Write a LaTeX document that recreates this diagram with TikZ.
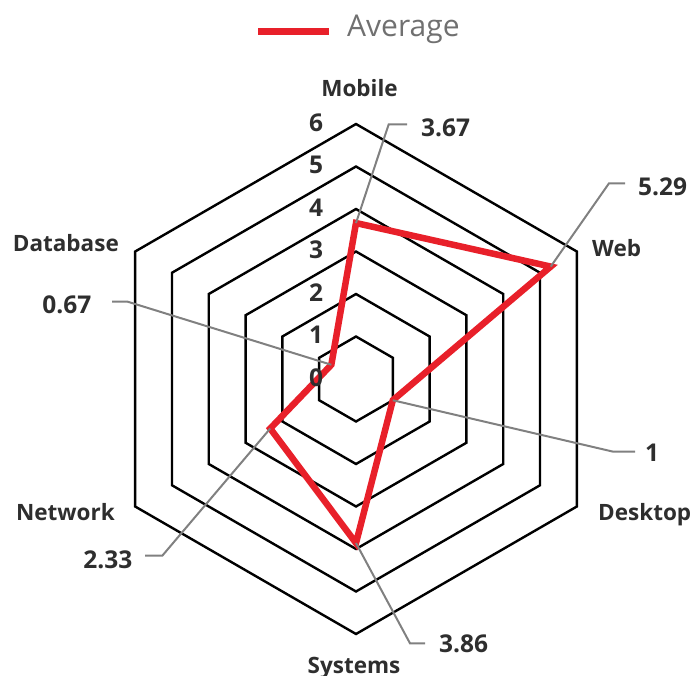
\documentclass[tikz,border=0pt]{standalone}
\usepackage{fontspec}
\setmainfont{Open Sans}
\usetikzlibrary{calc}
\definecolor{avred}{HTML}{E8202A}
\definecolor{leadgray}{HTML}{808080}
\definecolor{txt}{HTML}{2E2E2E}
\definecolor{legtxt}{HTML}{707070}
\begin{document}
\begin{tikzpicture}[x=1pt,y=-1pt,
  grid/.style={draw=black,line width=2.4pt,line join=miter},
  series/.style={draw=avred,line width=6.5pt,line join=miter},
  leader/.style={draw=leadgray,line width=2pt},
  axlabel/.style={font=\bfseries\fontsize{22.5}{22.5}\selectfont,text=txt,inner sep=0},
  vallabel/.style={font=\bfseries\fontsize{24.5}{24.5}\selectfont,text=txt,inner sep=0},
  scalelabel/.style={font=\bfseries\fontsize{24.5}{24.5}\selectfont,text=txt,inner sep=0,anchor=base},
  legendtext/.style={font=\fontsize{30}{30}\selectfont,text=legtxt,inner sep=0,anchor=base west}
]
\path[use as bounding box] (0,0) rectangle (693,675);
\coordinate (c) at (356,379);
% grid hexagons
\foreach \k in {1,...,6}{
  \pgfmathsetmacro\rr{42.5*\k}
  \draw[grid,shift={(356,379)}] (-90:\rr) -- (-30:\rr) -- (30:\rr) -- (90:\rr) -- (150:\rr) -- (210:\rr) -- cycle;
}
% data points
\coordinate (pm) at ($(c)+(-90:155.98)$);
\coordinate (pw) at ($(c)+(-30:224.83)$);
\coordinate (pd) at ($(c)+(30:42.5)$);
\coordinate (ps) at ($(c)+(90:164.05)$);
\coordinate (pn) at ($(c)+(150:99.03)$);
\coordinate (pb) at ($(c)+(210:28.48)$);
\draw[series] (pm) -- (pw) -- (pd) -- (ps) -- (pn) -- (pb) -- cycle;
% elbows and ends of leaders
\coordinate (em) at (388.7,124.3); \coordinate (hm) at (407,124.3);
\coordinate (ew) at (609,183.3);   \coordinate (hw) at (625,183.3);
\coordinate (ed) at (613.3,451.7); \coordinate (hd) at (635,451.7);
\coordinate (es) at (410,643.3);   \coordinate (hs) at (425,643.3);
\coordinate (en) at (162.3,555.7); \coordinate (hn) at (145,555.7);
\coordinate (eb) at (127.7,301.7); \coordinate (hb) at (112,301.7);
\draw[leader] (pm) -- (em) -- (hm);
\draw[leader] (pw) -- (ew) -- (hw);
\draw[leader] (pd) -- (ed) -- (hd);
\draw[leader] (ps) -- (es) -- (hs);
\draw[leader] (pn) -- (en) -- (hn);
\draw[leader] (pb) -- (eb) -- (hb);
% scale labels
\foreach \k in {0,...,6}{
  \node[scalelabel] (s\k) at (316,{386-42.5*\k}) {\k};
}
% axis labels
\node[axlabel,anchor=base] (lm) at (359.5,96) {Mobile};
\node[axlabel,anchor=base west] (lw) at (592,256) {Web};
\node[axlabel,anchor=base west] (ld) at (598,520) {Desktop};
\node[axlabel,anchor=base] (ls) at (354,673) {Systems};
\node[axlabel,anchor=base east] (ln) at (115,520) {Network};
\node[axlabel,anchor=base east] (lb) at (119,251.7) {Database};
% value labels
\node[vallabel,anchor=base west] (vm) at (421,136.7) {3.67};
\node[vallabel,anchor=base west] (vw) at (638,195) {5.29};
\node[vallabel,anchor=base west] (vd) at (645,461.7) {1};
\node[vallabel,anchor=base west] (vs) at (439,652.7) {3.86};
\node[vallabel,anchor=base east] (vn) at (132.5,568.3) {2.33};
\node[vallabel,anchor=base east] (vb) at (91.5,313.3) {0.67};
% legend
\coordinate (la) at (258,31.3); \coordinate (lz) at (329,31.3);
\draw[draw=avred,line width=7.3pt] (la) -- (lz);
\node[legendtext] (leg) at (347,36) {Average};
\end{tikzpicture}
\end{document}
